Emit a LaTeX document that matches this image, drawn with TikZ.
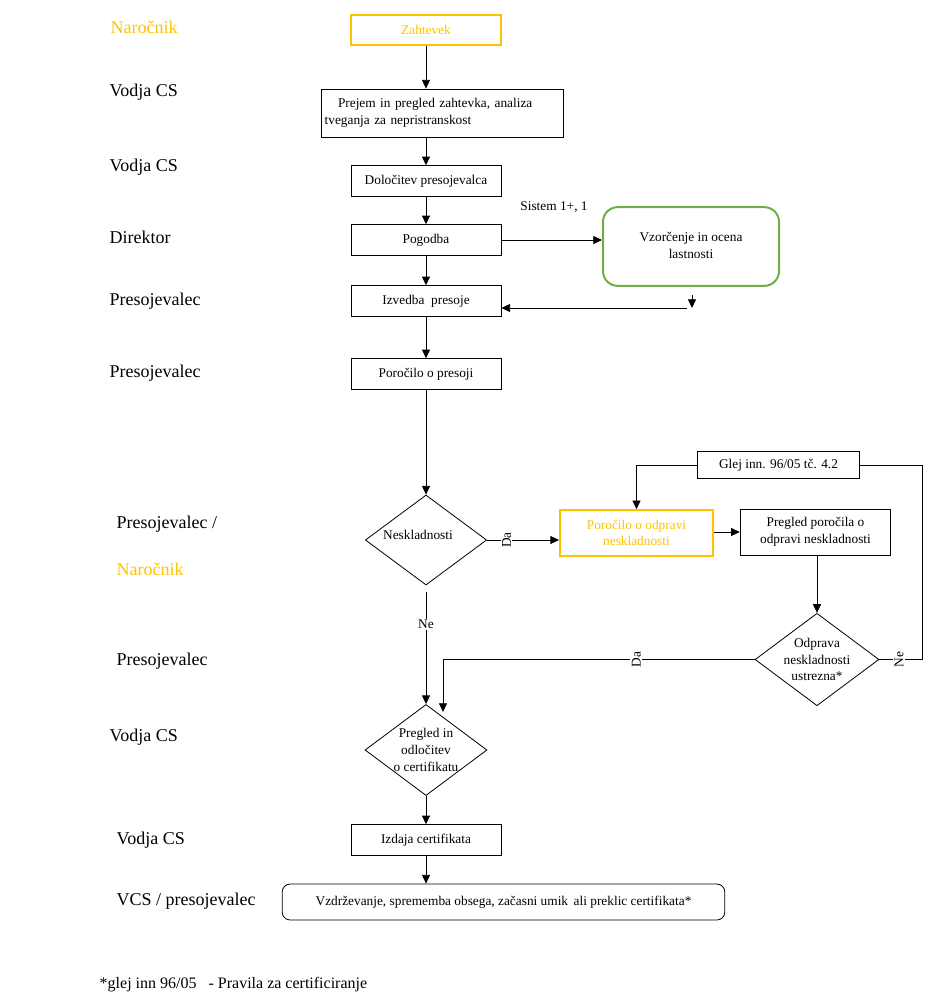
\documentclass[tikz,border=0pt]{standalone}
\usepackage{fontspec}
\setmainfont{Liberation Serif}
\usetikzlibrary{arrows.meta,shapes.geometric,calc}
\definecolor{YellowClr}{rgb}{1,0.76,0}
\definecolor{GreenClr}{rgb}{0.44,0.68,0.28}

\begin{document}
\begin{tikzpicture}[x=0.75pt,y=-0.75pt,
  every node/.style={font=\fontsize{10}{12.5}\selectfont},
  box/.style={draw,line width=0.6pt,minimum width=112.5pt,minimum height=23pt,inner sep=1pt,align=center},
  ybox/.style={box,draw=YellowClr,text=YellowClr,line width=1.5pt},
  decision/.style={draw,diamond,line width=0.6pt,aspect=1.34,minimum width=91pt,minimum height=67.5pt,inner sep=0pt,align=center},
  role/.style={anchor=west,font=\fontsize{13.5}{16}\selectfont},
  tag/.style={fill=white,inner sep=1pt},
  arr/.style={line width=0.6pt,-{Triangle[length=6.5pt,width=6pt]}},
  ln/.style={line width=0.6pt}]
\useasboundingbox (0,0) rectangle (935,1008);

% roles
\node[role,text=YellowClr] (r1) at (106,27) {Naročnik};
\node[role] (r2) at (105,92) {Vodja CS};
\node[role] (r3) at (105,167) {Vodja CS};
\node[role] (r4) at (105,237) {Direktor};
\node[role] (r5) at (105,301) {Presojevalec};
\node[role] (r6) at (105,373) {Presojevalec};
\node[role] (r7) at (112,524) {Presojevalec /};
\node[role,text=YellowClr] (r8) at (112,569) {Naročnik};
\node[role] (r9) at (112,661) {Presojevalec};
\node[role] (r10) at (105,737) {Vodja CS};
\node[role] (r11) at (112,840) {Vodja CS};
\node[role] (r12) at (112,901) {VCS / presojevalec};

% main column
\node[ybox] (zah) at (426,30) {Zahtevek};
\node[box,minimum width=181.5pt,minimum height=36pt,text width=176pt,align=left] (prej) at (442,113)
  {\hspace*{10pt}Prejem in pregled zahtevka, analiza\\tveganja za nepristranskost};
\node[box] (dol) at (426,181) {Določitev presojevalca};
\node[box] (pog) at (426,240) {Pogodba};
\node[box] (izv) at (426,301) {Izvedba\ \ presoje};
\node[box] (por) at (426,374) {Poročilo o presoji};
\node[decision] (nes) at (426,540) {\raisebox{8pt}{Neskladnosti\hspace*{12pt}}};
\node[decision] (pre) at (426,750) {Pregled in\\odločitev\\o certifikatu};
\node[box] (izd) at (426,840) {Izdaja certifikata};
\node[box,rounded corners=6pt,minimum width=332pt,minimum height=27pt] (vzd) at (503.5,902)
  {Vzdrževanje, sprememba obsega, začasni umik\, ali preklic certifikata*};

% side branch
\node[box,draw=GreenClr,line width=1.5pt,rounded corners=11pt,minimum width=132pt,minimum height=59pt] (vzo) at (691,246.5)
  {\raisebox{4pt}{\begin{tabular}{@{}c@{}}Vzorčenje in ocena\\lastnosti\end{tabular}}};
\node (sis) at (554,207) {Sistem 1+, 1};
\node[box,minimum width=122pt,minimum height=20pt] (glej) at (778.5,465) {Glej inn. 96/05 tč. 4.2};
\node[ybox,line width=1.2pt,minimum width=115pt,minimum height=34.5pt] (odp) at (636.5,533) {Poročilo o odpravi\\neskladnosti};
\node[box,minimum width=113pt,minimum height=34.5pt] (ppo) at (815.5,532) {Pregled poročila o\\odpravi neskladnosti};
\node[decision] (odr) at (817,659.5) {Odprava\\neskladnosti\\ustrezna*};

\coordinate (vzb) at (692,295);
\coordinate (vzr) at (687,308);
\coordinate (nez) at (922,465);
\coordinate (dat) at (443,712);

% connectors
\draw[arr] (zah.south) -- (zah.south |- prej.north);
\draw[arr] (prej.south -| dol.north) -- (dol.north);
\draw[arr] (dol) -- (pog);
\draw[arr] (pog) -- (izv);
\draw[arr] (izv) -- (por);
\draw[arr] (por) -- (nes);
\draw[arr] (pog.east) -- (pog.east -| vzo.west);
\draw[arr] (vzb) -- ++(0,13);
\draw[arr] (vzr) -- (vzr -| izv.east);
\draw[arr] (nes.east) -- node[tag,rotate=90,pos=0.27]{Da} (nes.east -| odp.west);
\draw[arr] (odp.east |- ppo.west) -- (ppo.west);
\draw[arr] (odr.north |- ppo.south) -- (odr.north);
\draw[arr] (glej.west) -| (odp.north);
\draw[ln] (glej.east) -- (nez) |- node[tag,rotate=90,pos=0.77]{Ne} (odr.east);
\draw[arr,shorten <=5pt] (nes.south) -- node[tag,pos=0.33]{Ne} (pre.north);
\draw[arr] (odr.west) -| node[tag,rotate=90,pos=0.19]{Da} (dat);
\draw[arr] (pre) -- (izd);
\draw[arr] (izd.south) -- (izd.south |- vzd.north);

\node[anchor=west,font=\fontsize{12}{14}\selectfont] (fn) at (95,985) {*glej inn 96/05\ \ \ - Pravila za certificiranje};
\end{tikzpicture}
\end{document}
